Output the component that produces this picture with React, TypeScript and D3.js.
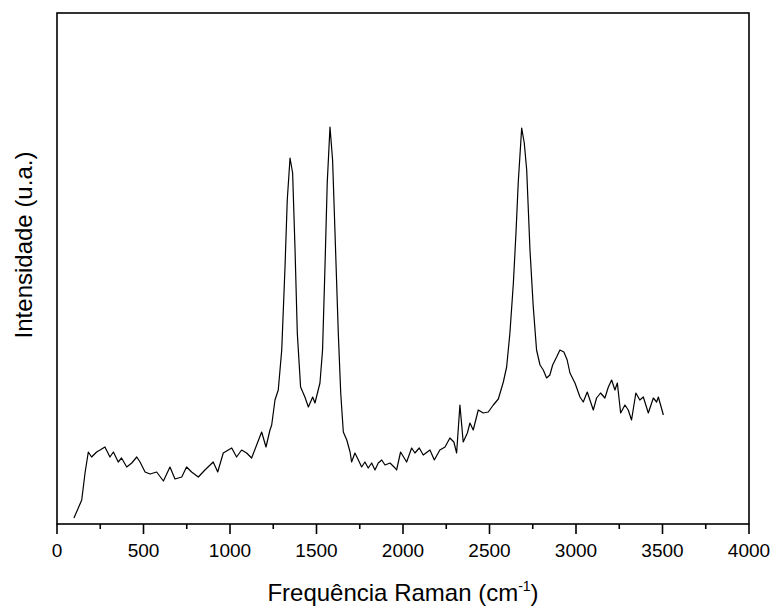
import React from "react";
import * as d3 from "d3";

const ramanShift: number[] = [
  98, 143, 162, 181, 200, 229, 249, 277, 306, 326, 354, 373, 403, 432, 461, 480, 509, 538, 576, 615,
  653, 682, 721, 749, 778, 817, 855, 903, 929, 961, 1010, 1038, 1067, 1096, 1125, 1154, 1183, 1208,
  1231, 1241, 1260, 1279, 1299, 1318, 1331, 1347, 1362, 1376, 1389, 1408, 1433, 1453, 1478, 1491,
  1520, 1535, 1549, 1562, 1578, 1593, 1607, 1626, 1640, 1655, 1675, 1694, 1703, 1722, 1742, 1761,
  1780, 1799, 1819, 1838, 1857, 1877, 1896, 1925, 1954, 1963, 1986, 2021, 2050, 2069, 2094, 2117,
  2156, 2181, 2213, 2243, 2271, 2294, 2310, 2329, 2348, 2372, 2387, 2406, 2435, 2464, 2493, 2522,
  2551, 2580, 2599, 2618, 2638, 2653, 2666, 2686, 2701, 2715, 2734, 2753, 2772, 2792, 2811, 2830,
  2849, 2865, 2888, 2907, 2930, 2949, 2965, 2994, 3023, 3042, 3065, 3100, 3119, 3142, 3167, 3187,
  3206, 3225, 3239, 3258, 3283, 3302, 3321, 3346, 3369, 3389, 3418, 3447, 3466, 3476, 3505,
];

const intensity: number[] = [
  6, 24, 51, 72, 67, 72, 74, 77, 67, 72, 62, 66, 57, 61, 67, 62, 52, 50, 52, 43,
  57, 45, 47, 57, 52, 47, 54, 62, 52, 71, 76, 67, 74, 71, 66, 79, 92, 77,
  94, 99, 124, 134, 174, 257, 324, 366, 351, 274, 191, 137, 127, 117, 127, 121,
  141, 174, 257, 341, 397, 364, 291, 191, 131, 92, 84, 72, 62, 71, 64, 57,
  62, 56, 61, 54, 61, 64, 59, 61, 56, 54, 72, 62, 76, 71, 76, 69,
  74, 64, 74, 77, 86, 82, 71, 119, 82, 91, 101, 94, 114, 111, 112, 119,
  125, 142, 157, 191, 241, 291, 341, 396, 381, 354, 274, 217, 174, 159, 154, 146,
  149, 159, 167, 174, 172, 164, 151, 141, 127, 122, 132, 114, 126, 131, 126, 137,
  144, 134, 141, 111, 119, 114, 104, 131, 124, 127, 111, 126, 122, 127, 109,
];

const xTicks: number[] = [0, 500, 1000, 1500, 2000, 2500, 3000, 3500, 4000];
const xMinorTicks: number[] = [250, 750, 1250, 1750, 2250, 2750, 3250, 3750];
const xLabel = "Frequência Raman (cm";
const yLabel = "Intensidade (u.a.)";

export default function App() {
  const W = 773;
  const H = 606;
  const left = 57;
  const right = 749;
  const top = 13;
  const bottom = 524;

  const x = d3.scaleLinear().domain([0, 4000]).range([left, right]);
  const y = d3.scaleLinear().domain([0, 511]).range([bottom, top]);

  const pts: [number, number][] = ramanShift.map((v, i) => [v, intensity[i]]);
  const line = d3
    .line<[number, number]>()
    .x((d) => x(d[0]))
    .y((d) => y(d[1]))
    .curve(d3.curveLinear);

  const font = "'Liberation Sans', Arial, sans-serif";

  return (
    <svg
      width={W}
      height={H}
      style={{ position: "absolute", left: 0, top: 0, background: "#fff" }}
      fontFamily={font}
    >
      <rect x={0} y={0} width={W} height={H} fill="#fff" />
      <path d={line(pts) || ""} fill="none" stroke="#000" strokeWidth={1.2} strokeLinejoin="round" />
      <rect
        x={left}
        y={top}
        width={right - left}
        height={bottom - top}
        fill="none"
        stroke="#000"
        strokeWidth={1.6}
      />
      {xTicks.map((t) => (
        <g key={"M" + t}>
          <line x1={x(t)} x2={x(t)} y1={bottom} y2={bottom + 10} stroke="#000" strokeWidth={1.6} />
          <text x={x(t)} y={557} textAnchor="middle" fontSize={19} fill="#000">
            {t}
          </text>
        </g>
      ))}
      {xMinorTicks.map((t) => (
        <line key={"m" + t} x1={x(t)} x2={x(t)} y1={bottom} y2={bottom + 5} stroke="#000" strokeWidth={1.6} />
      ))}
      <text x={403} y={601} textAnchor="middle" fontSize={24} fill="#000">
        {xLabel}
        <tspan dy={-10} fontSize={14}>-1</tspan>
        <tspan dy={10}>)</tspan>
      </text>
      <text
        transform={`translate(32,245) rotate(-90)`}
        textAnchor="middle"
        fontSize={24}
        fill="#000"
      >
        {yLabel}
      </text>
    </svg>
  );
}
